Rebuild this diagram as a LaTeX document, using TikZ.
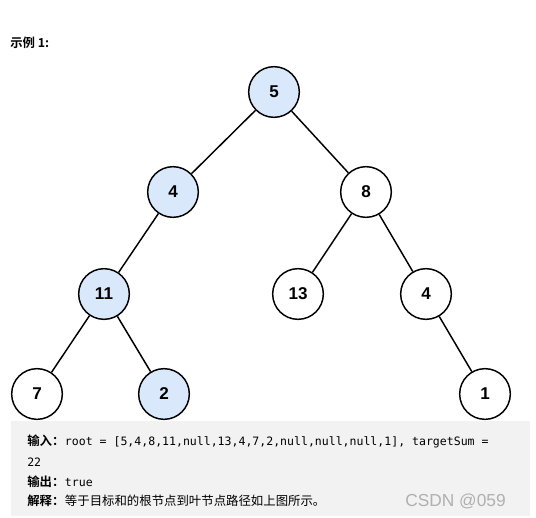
\documentclass[tikz,border=0pt]{standalone}
\usepackage{fontspec}
\setmainfont{Liberation Sans}
\setmonofont{DejaVu Sans Mono}
\newfontfamily\cjk{Noto Sans CJK SC}
\newfontfamily\cjkb{Noto Sans CJK SC}[BoldFont={* Bold}]
\definecolor{nodeblue}{HTML}{DAE8FC}
\definecolor{boxgray}{HTML}{F2F2F2}
\definecolor{wmgray}{HTML}{B0B0B0}
\begin{document}
\begin{tikzpicture}[x=0.75pt,y=-0.75pt,
  tn/.style={circle,draw=black,line width=1.1pt,minimum size=38pt,inner sep=0pt,font=\fontsize{12.8}{14}\selectfont\bfseries},
  hl/.style={tn,fill=nodeblue},
  pl/.style={tn,fill=white},
  edge/.style={line width=1.1pt,draw=black},
  txt/.style={anchor=base west,inner sep=0pt,font=\fontsize{9.3}{11}\selectfont},
  code/.style={anchor=base west,inner sep=0pt,font=\fontsize{8.65}{11}\selectfont\ttfamily}]
\useasboundingbox (0,0) rectangle (536,518);
\fill[white] (0,0) rectangle (536,518);
\fill[boxgray] (11,421) rectangle (530,516);
\node[txt,font=\fontsize{9.3}{11}\selectfont\cjkb\bfseries] (title) at (10,47) {示例 1:};
\node[hl] (n5) at (274,92) {5};
\node[hl] (n4) at (173,192) {4};
\node[pl] (n8) at (366,192) {8};
\node[hl] (n11) at (104,294) {11};
\node[pl] (n13) at (298,294) {13};
\node[pl] (n4b) at (426,294) {4};
\node[pl] (n7) at (37,394) {7};
\node[hl] (n2) at (164,394) {2};
\node[pl] (n1) at (485,394) {1};
\draw[edge] (n5) -- (n4);
\draw[edge] (n5) -- (n8);
\draw[edge] (n4) -- (n11);
\draw[edge] (n8) -- (n13);
\draw[edge] (n8) -- (n4b);
\draw[edge] (n11) -- (n7);
\draw[edge] (n11) -- (n2);
\draw[edge] (n4b) -- (n1);
\node[txt,font=\fontsize{9.3}{11}\selectfont\cjkb\bfseries] (l1) at (27,445) {输入：};
\node[code] (c1) at (l1.base east) {root = [5,4,8,11,null,13,4,7,2,null,null,null,1], targetSum =};
\node[code] (c2) at (27,466) {22};
\node[txt,font=\fontsize{9.3}{11}\selectfont\cjkb\bfseries] (l3) at (27,486) {输出：};
\node[code] (c3) at (l3.base east) {true};
\node[txt,font=\fontsize{9.3}{11}\selectfont\cjkb\bfseries] (l4) at (27,505) {解释：};
\node[txt,font=\fontsize{9.3}{11}\selectfont\cjk] (c4) at (l4.base east) {等于目标和的根节点到叶节点路径如上图所示。};
\node[anchor=base east,inner sep=0pt,text=wmgray,font=\fontsize{13}{14}\selectfont] (wm) at (506,506) {CSDN @059};
\end{tikzpicture}
\end{document}
